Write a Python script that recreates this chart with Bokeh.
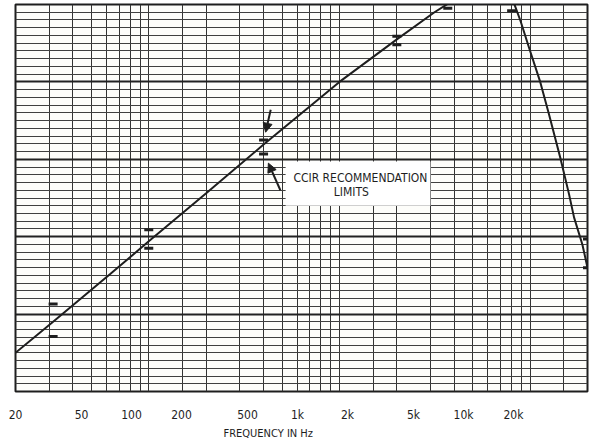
from bokeh.plotting import figure
from bokeh.models import (Range1d, LogScale, LogAxis, FixedTicker, Arrow, NormalHead,
                          Label, BoxAnnotation, Title)
from bokeh.embed import file_html
from bokeh.resources import INLINE

# ---- data ----
curve_freq = [20, 31.5, 63, 100, 200, 400, 1000, 2000, 3150, 4000, 5000, 6300, 7100,
              8000, 8900, 10000, 11300, 12500, 14400, 16000, 17000, 18800, 20000]
curve_db = [-35.0, -31.0, -24.8, -20.6, -14.4, -8.1, 0.0, 5.5, 9.0, 10.6, 11.6, 12.1, 12.0,
            11.0, 7.9, 4.0, 0.0, -4.0, -9.8, -14.5, -17.5, -21.0, -24.0]

limit_freq = [31.5, 31.5, 100, 100, 400, 400, 2000, 2000, 3700, 3700, 8000, 8000, 20000, 20000]
limit_db = [-28.7, -32.9, -19.1, -21.5, -7.5, -9.3, 5.9, 4.8, 10.4, 9.5, 10.4, 9.2, -20.3, -24.0]

tick_freq = [20, 50, 100, 200, 500, 1000, 2000, 5000, 10000, 20000]
tick_labels = ["20", "50", "100", "200", "500", "1k", "2k", "5k", "10k", "20k"]

grid_freq = [20, 30, 40, 50, 60, 70, 80, 90, 100, 150, 200, 300, 400, 500, 600, 700, 800, 900,
             1000, 1500, 2000, 3000, 4000, 5000, 6000, 7000, 8000, 9000, 10000, 15000, 20000]
grid_db_major = [-40, -30, -20, -10, 0, 10]
grid_db_minor = [v for v in range(-40, 11) if v % 10 != 0]

FONT = "DejaVu Sans Condensed, Roboto, sans-serif"
INK = "#1e1e1e"

p = figure(width=600, height=440, x_axis_type="log",
           x_range=Range1d(20, 20000), y_range=Range1d(-40, 10),
           x_axis_location=None, y_axis_location=None,
           output_backend="svg", toolbar_location=None,
           min_border_left=15, min_border_right=13, min_border_top=4, min_border_bottom=49,
           background_fill_color="#fdfdfa", border_fill_color="white")

p.outline_line_color = INK
p.outline_line_width = 2

# graph-paper grid
p.xgrid.ticker = FixedTicker(ticks=grid_freq)
p.xgrid.grid_line_color = "#333333"
p.xgrid.grid_line_width = 1
p.ygrid.ticker = FixedTicker(ticks=grid_db_major, minor_ticks=grid_db_minor)
p.ygrid.grid_line_color = "#222222"
p.ygrid.grid_line_width = 2
p.ygrid.minor_grid_line_color = "#404040"
p.ygrid.minor_grid_line_width = 1

# frequency labels (printed on a slightly compressed scale in the original)
p.extra_x_ranges = {"labels": Range1d(20, 55830)}
p.extra_x_scales = {"labels": LogScale()}
lab_axis = LogAxis(x_range_name="labels", ticker=FixedTicker(ticks=tick_freq),
                   major_label_overrides=dict(zip(tick_freq, tick_labels)),
                   axis_line_color=None, major_tick_line_color=None, minor_tick_line_color=None,
                   major_tick_out=0, major_tick_in=0, minor_tick_out=0, minor_tick_in=0,
                   major_label_standoff=16, major_label_text_font=FONT,
                   major_label_text_font_size="12px", major_label_text_color=INK)
p.add_layout(lab_axis, "below")
p.add_layout(Title(text="FREQUENCY IN Hz", align="left", offset=208, standoff=0,
                   text_font=FONT, text_font_size="11px", text_font_style="normal",
                   text_color=INK), "below")

# response curve and limit marks
p.line(curve_freq, curve_db, line_color=INK, line_width=2)
p.scatter(limit_freq, limit_db, marker="dash", size=9, line_color=INK, line_width=3)

# annotation box, text and arrows
p.add_layout(BoxAnnotation(left=522, right=3000, top=-10.3, bottom=-16.0,
                           fill_color="white", fill_alpha=1.0, line_color=None))
p.add_layout(Label(x=1288, y=-12.4, text="CCIR RECOMMENDATION", text_align="center",
                   text_baseline="middle", text_font=FONT, text_font_size="12px",
                   text_color=INK))
p.add_layout(Label(x=1154, y=-14.2, text="LIMITS", text_align="center",
                   text_baseline="middle", text_font=FONT, text_font_size="12px",
                   text_color=INK))
p.add_layout(Arrow(end=NormalHead(size=9, fill_color=INK, line_color=INK),
                   x_start=436, y_start=-3.6, x_end=410, y_end=-6.5,
                   line_color=INK, line_width=2))
p.add_layout(Arrow(end=NormalHead(size=9, fill_color=INK, line_color=INK),
                   x_start=490, y_start=-14.0, x_end=424, y_end=-10.5,
                   line_color=INK, line_width=2))

open("out.html", "w").write(file_html(p, INLINE))
